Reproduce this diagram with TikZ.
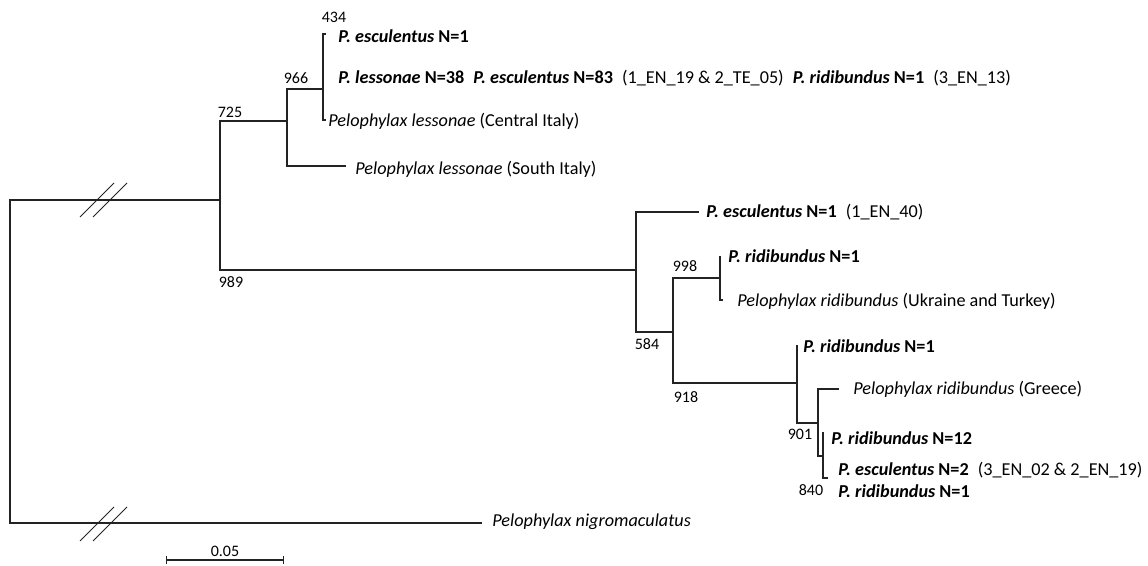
\documentclass[tikz,border=0pt]{standalone}
\usepackage{fontspec}
\setmainfont{Carlito}
\usepackage{tikz}
\usetikzlibrary{arrows.meta,positioning,calc}
\definecolor{branchgray}{RGB}{35,35,35}
\newcommand{\taxb}[1]{\textbf{\textit{#1}}}
\newcommand{\taxn}[1]{\textbf{#1}}
\tikzset{
  phylo/.style={x=0.5pt,y=-0.5pt,
    every node/.style={inner sep=0pt,font=\fontsize{9.1}{11}\selectfont}},
  br/.style={draw=branchgray,line width=0.55pt},
  tip/.style={anchor=west},
  bs/.style={font=\fontsize{8}{9}\selectfont},
  brk/.style={draw=branchgray,line width=0.5pt}}

\begin{document}
\begin{tikzpicture}[phylo]
  \useasboundingbox (0,0) rectangle (1148,566);
  % internal nodes and tips (pixel grid)
  \coordinate (R)   at (10,361);
  \coordinate (A)   at (220,200);
  \coordinate (L)   at (287,121);
  \coordinate (C)   at (323,89);
  \coordinate (tC1) at (326,34);
  \coordinate (tC3) at (326,120);
  \coordinate (tSI) at (346,166);
  \coordinate (B)   at (636,270);
  \coordinate (tE)  at (699,212);
  \coordinate (M)   at (673,332);
  \coordinate (U)   at (720,278);
  \coordinate (tU1) at (720,256);
  \coordinate (tU2) at (723,300);
  \coordinate (G)   at (797,383);
  \coordinate (tG1) at (797,345);
  \coordinate (H)   at (818,423);
  \coordinate (tGr) at (839,389);
  \coordinate (K)   at (823,456);
  \coordinate (tK1) at (823,432);
  \coordinate (tK2) at (828,478);
  \coordinate (tN)  at (482,523);

  \draw[br] (R) |- (A) (R) |- (tN);
  \draw[br] (A) |- (L) (A) |- (B);
  \draw[br] (L) |- (C) (L) |- (tSI);
  \draw[br] (C) |- (tC1) (C) |- (tC3);
  \draw[br] (B) |- (tE) (B) |- (M);
  \draw[br] (M) |- (U) (M) |- (G);
  \draw[br] (U) |- (tU1) (U) |- (tU2);
  \draw[br] (G) |- (tG1) (G) |- (H);
  \draw[br] (H) |- (tGr) (H) |- (K);
  \draw[br] (K) |- (tK1) (K) |- (tK2);

  % broken branches
  \foreach \y in {200,524}
    \foreach \x in {97,110}
      \draw[brk] (\x-17,\y+17) -- (\x+17,\y-17);

  % leaves
  \node[tip] (esc1) at (338,36)  {\taxb{P. esculentus} \taxn{N=1}};
  \node[tip] (pool) at (338,78)  {\taxb{P. lessonae} \taxn{N=38}\enspace\taxb{P. esculentus} \taxn{N=83}\enspace(1\_EN\_19 \& 2\_TE\_05)\enspace\taxb{P. ridibundus} \taxn{N=1}\enspace(3\_EN\_13)};
  \node[tip] (lesC) at (328,121) {\textit{Pelophylax lessonae} (Central Italy)};
  \node[tip] (lesS) at (355,169) {\textit{Pelophylax lessonae} (South Italy)};
  \node[tip] (esc2) at (706,212) {\taxb{P. esculentus} \taxn{N=1}\enspace(1\_EN\_40)};
  \node[tip] (rid1) at (728,256) {\taxb{P. ridibundus} \taxn{N=1}};
  \node[tip] (ridU) at (737,301) {\textit{Pelophylax ridibundus} (Ukraine and Turkey)};
  \node[tip] (rid2) at (803,346) {\taxb{P. ridibundus} \taxn{N=1}};
  \node[tip] (ridG) at (853,389) {\textit{Pelophylax ridibundus} (Greece)};
  \node[tip] (rid3) at (831,438) {\taxb{P. ridibundus} \taxn{N=12}};
  \node[tip] (esc3) at (838,470) {\taxb{P. esculentus} \taxn{N=2}\enspace(3\_EN\_02 \& 2\_EN\_19)};
  \node[tip] (rid4) at (838,491) {\taxb{P. ridibundus} \taxn{N=1}};
  \node[tip] (nigr) at (492,522) {\textit{Pelophylax nigromaculatus}};

  % bootstrap values
  \node[bs] (b434) at (334,17)  {434};
  \node[bs] (b966) at (296,78)  {966};
  \node[bs] (b725) at (230,112) {725};
  \node[bs] (b989) at (231,282) {989};
  \node[bs] (b584) at (647,344) {584};
  \node[bs] (b998) at (685,266) {998};
  \node[bs] (b918) at (686,397) {918};
  \node[bs] (b901) at (800,434) {901};
  \node[bs] (b840) at (811,490) {840};

  % scale bar
  \coordinate (sb1) at (166,560);
  \coordinate (sb2) at (284,560);
  \draw[br,{Bar[width=4pt]}-{Bar[width=4pt]}] (sb1) -- (sb2);
  \node[bs] (sbl) at ($(sb1)!0.5!(sb2)+(0,-9)$) {0.05};
\end{tikzpicture}
\end{document}
